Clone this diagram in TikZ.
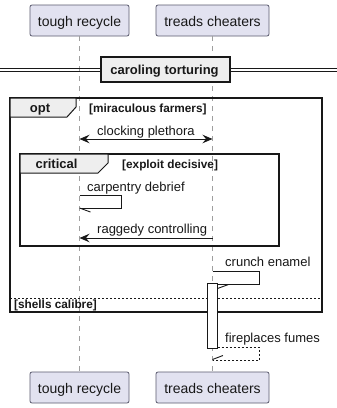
\documentclass[tikz,border=0pt]{standalone}
\usepackage{fontspec}
\setmainfont{Liberation Sans}
\usetikzlibrary{arrows.meta}
\definecolor{partfill}{HTML}{E2E2F0}
\definecolor{partline}{HTML}{5A5A6E}
\definecolor{tabfill}{HTML}{EEEEEE}
\definecolor{ink}{HTML}{181818}
\begin{document}
\begin{tikzpicture}[x=1pt,y=-1pt,
  participant/.style={draw=partline,fill=partfill,rounded corners=2pt,line width=0.8pt,
    minimum height=31pt,inner sep=0pt,font=\fontsize{14}{16}\selectfont,text=ink},
  lifeline/.style={draw=gray!75,line width=0.8pt,dash pattern=on 5pt off 5pt},
  msg/.style={draw=ink,line width=0.9pt},
  rmsg/.style={draw=ink,line width=0.9pt,dash pattern=on 2pt off 2pt},
  head/.tip={Stealth[length=10pt,width=8.5pt,inset=3.5pt]},
  msglabel/.style={anchor=base west,inner sep=0pt,font=\fontsize{13}{15}\selectfont,text=ink},
  guard/.style={anchor=base west,inner sep=0pt,font=\bfseries\fontsize{11.8}{13}\selectfont,text=ink},
  tabtext/.style={anchor=base,inner sep=0pt,font=\bfseries\fontsize{13}{15}\selectfont,text=ink},
  framebox/.style={draw=ink,line width=1.5pt},
  tabbox/.style={draw=ink,fill=tabfill,line width=1pt}]
\useasboundingbox (0,0) rectangle (337,408);
\fill[white] (0,0) rectangle (337,408);

% participants
\node[participant,minimum width=99pt] (pA) at (79.5,20.5) {};
\node[anchor=base,inner sep=0pt,font=\fontsize{14}{16}\selectfont,text=ink] at (79.5,26) {tough recycle};
\node[participant,minimum width=113pt] (pB) at (212.5,20.5) {};
\node[anchor=base,inner sep=0pt,font=\fontsize{14}{16}\selectfont,text=ink] at (212.5,26) {treads cheaters};
\node[participant,minimum width=99pt] (pAb) at (79.5,387.5) {};
\node[anchor=base,inner sep=0pt,font=\fontsize{14}{16}\selectfont,text=ink] at (79.5,393) {tough recycle};
\node[participant,minimum width=113pt] (pBb) at (212.5,387.5) {};
\node[anchor=base,inner sep=0pt,font=\fontsize{14}{16}\selectfont,text=ink] at (212.5,393) {treads cheaters};

% lifelines
\draw[lifeline] (79.5,36) -- (79.5,372);
\draw[lifeline] (212.5,36) -- (212.5,372);

% divider
\draw[ink,line width=0.9pt] (0,68) -- (337,68) (0,71.5) -- (337,71.5);
\node[draw=ink,fill=tabfill,line width=1.5pt,minimum width=129pt,minimum height=25pt,inner sep=0pt] (div) at (165.5,69.5) {};
\node[tabtext] at (164.5,74.5) {caroling torturing};

% opt frame
\draw[framebox] (10,98) rectangle (322,312);
\draw[tabbox] (10,98) -- (76,98) -- (76,107) -- (67,117) -- (10,117) -- cycle;
\node[tabtext] at (40,112) {opt};
\node[guard] at (89,112) {[miraculous farmers]};

% clocking plethora
\coordinate (m1a) at (79.5,139);
\coordinate (m1b) at (212.5,139);
\draw[msg,{head}-{head}] (m1a) -- (m1b);
\node[msglabel] at (97,135.5) {clocking plethora};

% critical frame
\draw[framebox] (20,154) rectangle (279,246);
\draw[tabbox] (20,154) -- (108,154) -- (108,163) -- (98,173) -- (20,173) -- cycle;
\node[tabtext] at (56.5,168) {critical};
\node[guard] at (122,168) {[exploit decisive]};

% carpentry debrief (self message)
\coordinate (m2a) at (79.5,195.5);
\coordinate (m2b) at (79.5,208);
\draw[msg] (m2a) -- (121.5,195.5) -- (121.5,208) -- (m2b);
\draw[msg] (m2b) -- ++(11,4);
\node[msglabel] at (87,191) {carpentry debrief};

% raggedy controlling
\coordinate (m3a) at (212.5,238);
\coordinate (m3b) at (79.5,238);
\draw[msg,-{head}] (m3a) -- (m3b);
\node[msglabel] at (97,233.5) {raggedy controlling};

% crunch enamel (self message into activation)
\coordinate (m4a) at (212.5,271.5);
\coordinate (m4b) at (217.5,284);
\draw[msg] (m4a) -- (259.5,271.5) -- (259.5,284) -- (m4b);
\draw[msg] (217.5,288.5) -- (228.5,284.5);
\node[msglabel] at (225,266) {crunch enamel};

% else separator
\draw[ink,line width=0.8pt,dash pattern=on 2pt off 2pt] (10,298.5) -- (322,298.5);
\node[guard] at (14,308) {[shells calibre]};

% activation bar
\node[draw=ink,fill=white,line width=0.9pt,minimum width=10pt,minimum height=65pt,inner sep=0pt] (act) at (212.5,316) {};

% fireplaces fumes (dashed return)
\coordinate (m5a) at (217.5,347.5);
\coordinate (m5b) at (212.5,360);
\draw[rmsg] (m5a) -- (259.5,347.5) -- (259.5,360) -- (m5b);
\draw[msg] (212.5,359.5) -- (223,355.5);
\node[msglabel] at (225,342) {fireplaces fumes};
\end{tikzpicture}
\end{document}
